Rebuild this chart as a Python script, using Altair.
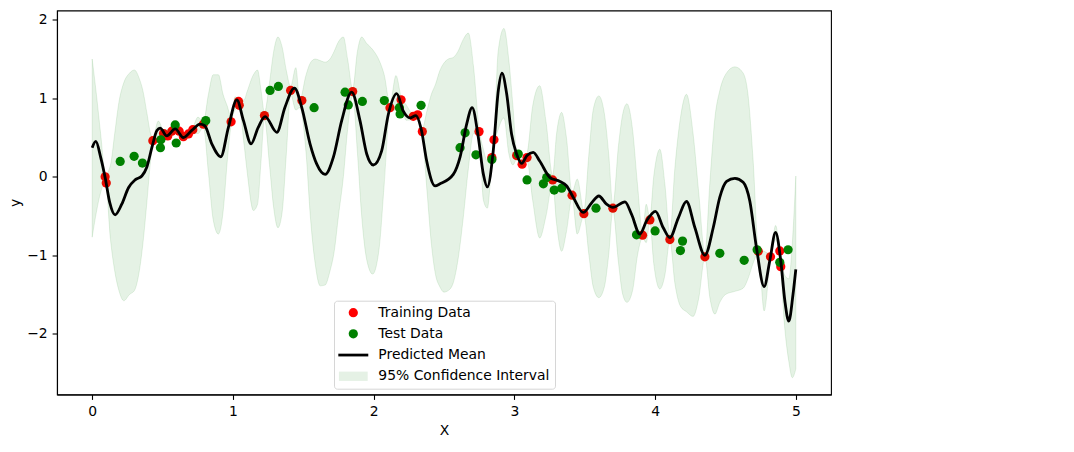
import altair as alt
import pandas as pd

# ---- data ----
train_x = [0.092, 0.100, 0.431, 0.507, 0.537, 0.566, 0.618, 0.648, 0.684, 0.715, 0.790,
           0.987, 1.040, 1.045, 1.224, 1.410, 1.490, 1.851, 2.116, 2.195, 2.282, 2.313,
           2.346, 2.749, 2.840, 2.855, 3.016, 3.055, 3.090, 3.272, 3.410, 3.494, 3.700,
           3.911, 3.963, 4.105, 4.354, 4.733, 4.820, 4.886, 4.893]
train_y = [0.00, -0.08, 0.46, 0.55, 0.52, 0.58, 0.58, 0.51, 0.545, 0.60, 0.67,
           0.70, 0.96, 0.91, 0.78, 1.10, 0.97, 1.085, 0.88, 0.98, 0.77, 0.79,
           0.575, 0.575, 0.245, 0.47, 0.27, 0.16, 0.245, -0.04, -0.235, -0.47, -0.40,
           -0.745, -0.55, -0.80, -1.02, -0.95, -1.02, -0.945, -1.145]

test_x = [0.199, 0.298, 0.357, 0.485, 0.488, 0.590, 0.597, 0.807, 1.264, 1.323, 1.577,
          1.797, 1.820, 1.920, 2.076, 2.183, 2.188, 2.337, 2.614, 2.650, 2.727, 2.840,
          3.028, 3.090, 3.206, 3.230, 3.283, 3.336, 3.580, 3.868, 4.000, 4.180, 4.195,
          4.460, 4.633, 4.725, 4.886, 4.945]
test_y = [0.195, 0.26, 0.175, 0.37, 0.47, 0.66, 0.43, 0.715, 1.10, 1.15, 0.88,
          1.077, 0.915, 0.96, 0.97, 0.88, 0.80, 0.91, 0.37, 0.56, 0.28, 0.22,
          0.29, -0.04, -0.09, -0.01, -0.17, -0.145, -0.40, -0.74, -0.69, -0.94, -0.82,
          -0.975, -1.065, -0.93, -1.09, -0.93]

mean_x = [0.000, 0.026, 0.060, 0.092, 0.125, 0.163, 0.210, 0.258, 0.305, 0.353, 0.388,
          0.424, 0.460, 0.483, 0.530, 0.590, 0.648, 0.708, 0.767, 0.800, 0.850, 0.914,
          0.968, 1.028, 1.075, 1.129, 1.180, 1.229, 1.312, 1.370, 1.437, 1.489, 1.548,
          1.596, 1.655, 1.714, 1.773, 1.844, 1.903, 1.951, 1.998, 2.057, 2.105, 2.164,
          2.210, 2.259, 2.300, 2.340, 2.377, 2.436, 2.472, 2.566, 2.614, 2.661, 2.700,
          2.744, 2.780, 2.808, 2.850, 2.886, 2.912, 2.945, 2.980, 3.016, 3.052, 3.090,
          3.134, 3.180, 3.253, 3.324, 3.370, 3.418, 3.489, 3.550, 3.600, 3.655, 3.700,
          3.786, 3.833, 3.892, 3.940, 4.003, 4.058, 4.105, 4.164, 4.223, 4.283, 4.354,
          4.413, 4.460, 4.508, 4.567, 4.626, 4.673, 4.720, 4.775, 4.815, 4.856, 4.893,
          4.922, 4.950, 4.980, 5.000]
mean_y = [0.37, 0.45, 0.25, -0.01, -0.33, -0.485, -0.35, -0.14, -0.04, 0.01, 0.12,
          0.37, 0.59, 0.62, 0.52, 0.61, 0.50, 0.59, 0.67, 0.65, 0.42, 0.255,
          0.63, 0.98, 0.715, 0.42, 0.63, 0.766, 0.566, 0.885, 1.13, 0.885, 0.42,
          0.16, 0.03, 0.25, 0.715, 1.077, 0.715, 0.29, 0.15, 0.33, 0.80, 1.06,
          0.84, 0.75, 0.78, 0.59, 0.20, -0.115, -0.09, 0.03, 0.25, 0.67, 0.88,
          0.50, 0.03, -0.13, 0.33, 1.10, 1.32, 1.06, 0.545, 0.29, 0.17, 0.27,
          0.31, 0.20, -0.01, -0.06, -0.115, -0.26, -0.455, -0.33, -0.245, -0.35, -0.39,
          -0.32, -0.48, -0.73, -0.56, -0.44, -0.65, -0.775, -0.53, -0.315, -0.65, -1.00,
          -0.65, -0.26, -0.06, -0.02, -0.07, -0.31, -0.90, -1.40, -1.07, -0.71, -1.07,
          -1.58, -1.84, -1.50, -1.18]

band_x = [0.000, 0.030, 0.060, 0.095, 0.130, 0.160, 0.190, 0.225, 0.265, 0.300, 0.335,
          0.360, 0.390, 0.415, 0.431, 0.470, 0.507, 0.550, 0.590, 0.630, 0.648, 0.684,
          0.715, 0.752, 0.790, 0.826, 0.860, 0.897, 0.930, 0.960, 0.987, 1.015, 1.045,
          1.080, 1.100, 1.146, 1.175, 1.200, 1.224, 1.260, 1.290, 1.320, 1.350, 1.380,
          1.410, 1.447, 1.475, 1.520, 1.550, 1.584, 1.620, 1.655, 1.690, 1.720, 1.750,
          1.785, 1.815, 1.851, 1.885, 1.915, 1.950, 1.993, 2.040, 2.075, 2.116, 2.159,
          2.195, 2.230, 2.282, 2.313, 2.346, 2.380, 2.410, 2.440, 2.470, 2.500, 2.530,
          2.566, 2.600, 2.637, 2.673, 2.710, 2.749, 2.780, 2.808, 2.840, 2.855, 2.885,
          2.926, 2.960, 2.990, 3.016, 3.055, 3.090, 3.130, 3.180, 3.225, 3.272, 3.300,
          3.336, 3.370, 3.410, 3.447, 3.494, 3.530, 3.560, 3.600, 3.640, 3.670, 3.700,
          3.740, 3.770, 3.800, 3.840, 3.875, 3.911, 3.937, 3.963, 3.990, 4.034, 4.070,
          4.105, 4.140, 4.180, 4.223, 4.270, 4.310, 4.354, 4.390, 4.425, 4.460, 4.500,
          4.567, 4.626, 4.660, 4.697, 4.733, 4.775, 4.820, 4.856, 4.890, 4.920, 4.950,
          4.975, 5.000]
band_lo = [-0.77, -0.45, -0.20, -0.07, -0.80, -1.20, -1.45, -1.58, -1.50, -1.45, -1.20,
           -0.86, -0.30, 0.20, 0.40, 0.50, 0.53, 0.50, 0.56, 0.50, 0.47, 0.51,
           0.56, 0.55, 0.63, 0.05, -0.55, -0.73, -0.45, 0.20, 0.66, 0.85, 0.88,
           0.40, 0.08, -0.43, -0.35, 0.20, 0.74, 0.15, -0.40, -0.65, -0.45, 0.30,
           1.05, 0.85, 0.88, 0.30, -0.50, -1.10, -1.39, -1.38, -1.20, -0.95, -0.50,
           0.00, 0.60, 1.03, 0.30, -0.50, -1.05, -1.24, -0.90, -0.10, 0.84, 0.85,
           0.92, 0.72, 0.73, 0.75, 0.53, -0.20, -0.85, -1.25, -1.40, -1.47, -1.45,
           -1.35, -1.05, -0.52, 0.10, 0.55, 0.53, -0.30, -0.40, 0.18, 0.40, 0.60,
           0.75, 0.30, 0.15, 0.22, 0.12, 0.20, -0.30, -0.78, -0.50, -0.08, -0.60,
           -0.95, -0.70, -0.27, -0.73, -0.50, -1.00, -1.40, -1.54, -1.40, -1.00, -0.43,
           -1.10, -1.50, -1.60, -1.45, -1.00, -0.78, -0.84, -0.58, -1.10, -1.43, -1.25,
           -0.81, -1.35, -1.65, -1.72, -1.78, -1.55, -1.03, -1.55, -1.75, -1.60, -1.50,
           -1.46, -1.42, -1.30, -1.10, -0.97, -1.71, -1.05, -0.80, -1.12, -1.90, -2.35,
           -2.56, -2.45]
band_hi = [1.50, 1.05, 0.55, 0.03, 0.15, 0.55, 0.95, 1.20, 1.32, 1.36, 1.25,
           1.10, 0.80, 0.55, 0.50, 0.71, 0.60, 0.60, 0.65, 0.59, 0.54, 0.58,
           0.63, 0.76, 0.70, 1.05, 1.30, 1.30, 1.05, 0.90, 0.76, 1.02, 0.97,
           0.98, 1.08, 1.30, 1.36, 1.10, 0.82, 1.20, 1.60, 1.78, 1.65, 1.35,
           1.15, 1.39, 0.98, 1.30, 1.45, 1.50, 1.48, 1.46, 1.50, 1.60, 1.72,
           1.78, 1.50, 1.12, 1.60, 1.78, 1.70, 1.62, 1.48, 1.30, 0.93, 1.29,
           1.02, 0.92, 0.80, 0.82, 0.62, 0.85, 1.05, 1.18, 1.35, 1.45, 1.50,
           1.52, 1.60, 1.75, 1.83, 1.40, 0.62, 0.35, 0.20, 0.30, 0.52, 1.60,
           1.89, 1.50, 0.90, 0.32, 0.22, 0.30, 0.90, 1.16, 0.70, 0.02, 0.55,
           0.82, 0.50, -0.20, -0.03, -0.43, 0.30, 0.85, 1.03, 0.80, 0.30, -0.36,
           0.40, 0.80, 0.93, 0.60, -0.10, -0.71, -0.35, -0.52, 0.00, 0.35, -0.10,
           -0.74, 0.10, 0.75, 1.05, 0.55, -0.20, -0.97, -0.05, 0.75, 1.10, 1.30,
           1.40, 1.32, 1.05, 0.20, -0.90, -0.95, -0.98, -0.62, -0.98, -1.25, -1.30,
           -0.85, 0.01]

legend_labels = ["Training Data", "Test Data", "Predicted Mean", "95% Confidence Interval"]
legend_colors = ["red", "green", "black", "#e5f1e5"]
legend_shapes = ["circle", "circle", "M-3.25,-0.3H3.25V0.3H-3.25Z", "M-3.12,-1.01H3.12V1.01H-3.12Z"]
x_ticks = [0, 1, 2, 3, 4, 5]
y_ticks = [-2, -1, 0, 1, 2]

# ---- tables ----
train_df = pd.DataFrame({"x": train_x, "y": train_y, "series": legend_labels[0]})
test_df = pd.DataFrame({"x": test_x, "y": test_y, "series": legend_labels[1]})
mean_df = pd.DataFrame({"x": mean_x, "y": mean_y})
band_df = pd.DataFrame({"x": band_x, "lo": band_lo, "hi": band_hi})

FONT = "DejaVu Sans"
FS = 13.9

xscale = alt.Scale(domain=[-0.25, 5.25], nice=False, zero=False)
yscale = alt.Scale(domain=[-2.774, 2.118], nice=False, zero=False)
xaxis = alt.Axis(values=x_ticks, format="d", title="X", titlePadding=5)
yaxis = alt.Axis(values=y_ticks, format="d", title="y", titlePadding=4.5)


def make_legend():
    return alt.Legend(
        title=None, orient="none", legendX=277, legendY=290.2, direction="vertical",
        symbolSize=85, symbolStrokeWidth=0, symbolOffset=7.35, labelOffset=18.1,
        rowPadding=6.2, padding=5, fillColor="rgba(255,255,255,0.8)", strokeColor="#d6d6d6",
        cornerRadius=3, labelFont=FONT, labelFontSize=FS, labelColor="black", labelLimit=0,
        symbolOpacity=1,
    )


color = alt.Color("series:N", scale=alt.Scale(domain=legend_labels, range=legend_colors),
                  legend=make_legend())
shape = alt.Shape("series:N", scale=alt.Scale(domain=legend_labels, range=legend_shapes),
                  legend=make_legend())

train_layer = alt.Chart(train_df).mark_point(filled=True, size=85, opacity=1).encode(
    x=alt.X("x:Q", scale=xscale, axis=xaxis),
    y=alt.Y("y:Q", scale=yscale, axis=yaxis),
    color=color, shape=shape,
)
test_layer = alt.Chart(test_df).mark_point(filled=True, size=85, opacity=1).encode(
    x="x:Q", y="y:Q", color=color, shape=shape,
)
band_layer = alt.Chart(band_df).mark_area(
    interpolate="monotone", fill="green", fillOpacity=0.1,
    stroke="green", strokeOpacity=0.1, strokeWidth=1,
).encode(x="x:Q", y="lo:Q", y2="hi:Q")
mean_layer = alt.Chart(mean_df).mark_line(
    interpolate="monotone", color="black", strokeWidth=2.8,
).encode(x="x:Q", y="y:Q")

chart = alt.layer(train_layer, test_layer, band_layer, mean_layer).properties(
    width=774, height=384,
    autosize=alt.AutoSizeParams(type="none"),
    padding={"left": 49, "top": 2.5, "right": 20, "bottom": 60},
).configure(
    font=FONT,
).configure_view(
    stroke="black", strokeWidth=1.1,
).configure_axis(
    grid=False, domainColor="black", domainWidth=1.1, tickColor="black", tickSize=4.9,
    tickWidth=1.1, labelFont=FONT, labelFontSize=FS, labelColor="black", labelPadding=4.9,
    titleFont=FONT, titleFontSize=FS, titleFontWeight="normal", titleColor="black",
)

chart.save("out.html", embed_options={"renderer": "svg", "actions": False})
